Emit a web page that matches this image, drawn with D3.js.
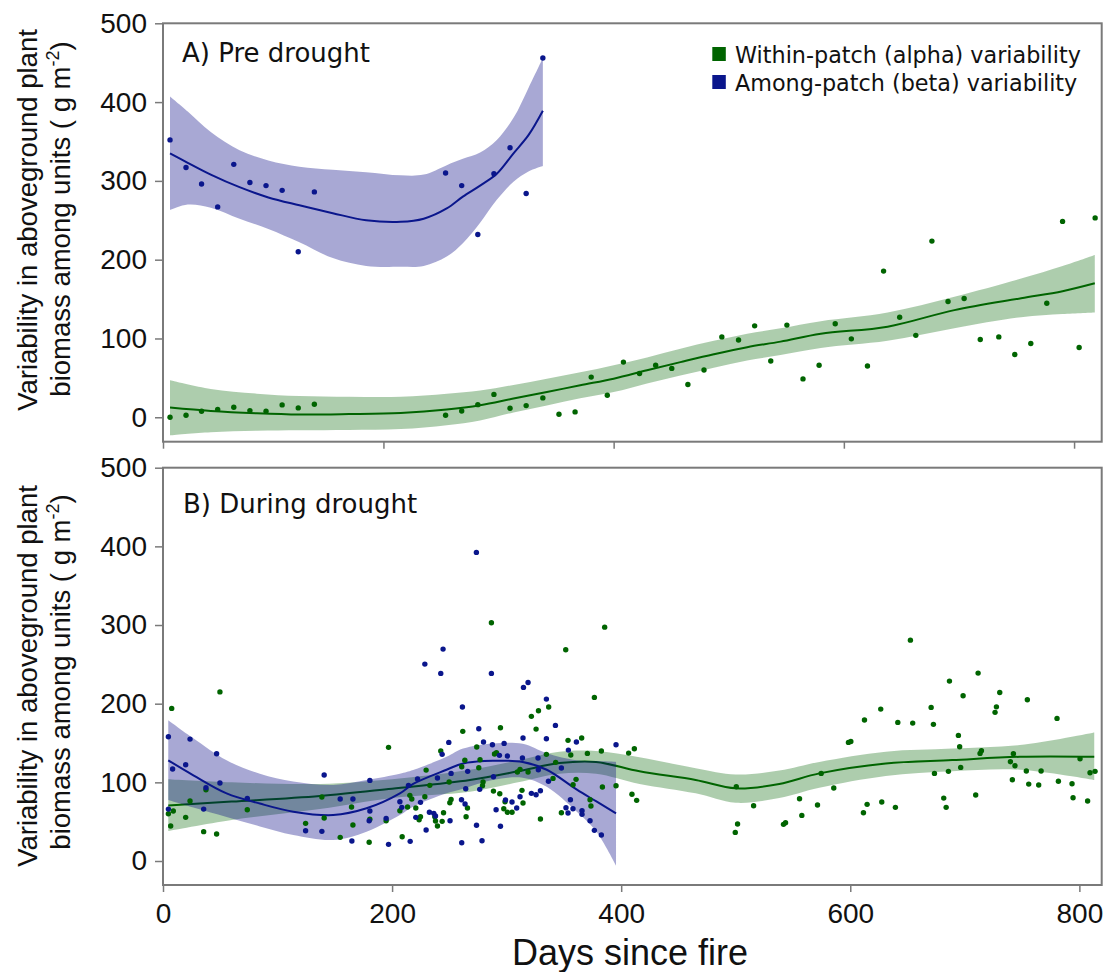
<!DOCTYPE html>
<html><head><meta charset="utf-8">
<script src="https://cdn.jsdelivr.net/npm/d3@7"></script>
<style>body{margin:0;background:#fff} svg{display:block}</style>
</head><body>
<svg id="chart" width="1107" height="972"></svg>
<script>
// ---------- DATA ----------
const xTicks = [0, 200, 400, 600, 800];
const yTicks = [0, 100, 200, 300, 400, 500];
const legendLabels = ["Within-patch (alpha) variability", "Among-patch (beta) variability"];
const panelLabels = ["A) Pre drought", "B) During drought"];

// Panel A – pre drought, observed points [days, value]
const preAlphaPts = [[14.6,0],[28.5,2.5],[42,7.6],[56,10],[70,12.7],[84,8.5],[98,7.6],[112,15.7],[126,11.9],[140,16.5],
 [254,2.5],[268,8],[282,16],[296,29],[310,11.4],[324,14.8],[338.5,24.6],[352.5,3.8],[366.5,6.8],[380.5,51],[394.5,28],
 [408.5,70],[422.5,55.5],[436.5,66],[450.5,62],[464.5,41.5],[478.5,60],[494,102],[508.5,98],[522.5,116],[536.5,71.5],
 [550.5,117],[564.5,48.7],[578.5,66],[592.5,118.6],[606.5,99.5],[620.5,65],[634.5,185.5],[648.5,127],[662.5,104],
 [676.5,223.6],[690.5,147],[704.5,150.8],[718.5,98.7],[734.6,102],[748.5,79.7],[762.4,93.6],[776.3,144.8],[790,248.6],
 [804.4,88.5],[818.3,253]];
const preBetaPts = [[14.6,352],[28.5,317],[42,296],[56,267],[70,321],[84,298],[98,294],[112,288],[126,210],[140,286],
 [254,310],[268,294],[282,232],[296,309],[310,342],[324,284],[338.5,456]];

// Panel A – fitted smooths with confidence bands
const preAlphaX     = [14.6,50,90,127,170,215,255,284,313,342,371,400,429,458,487,516,545,580,638,696,754,790,818];
const preAlphaFit   = [12.3,8,5,3.4,4,5.5,9.8,15.2,23.7,32,40.7,49,59.7,70,80,89,96,106,115,136,151,160,170];
const preAlphaUpper = [47,36,30,27,26,26,30,34,41,49,57,66,76,87,97,106,113,122,133,153,176,192,206];
const preAlphaLower = [-23,-19,-17,-16.5,-16,-15,-10,-4,6,15,24,32,43,53,63,72,79,88,97,113,127,131,133];

const preBetaX     = [14.6,30,50,75,100,127,156,185,215,235,255,269,284,298.5,313,326,338.5];
const preBetaFit   = [335,323,308,292,279,269,259,250,248,252,265,280,294,309,335,358,389];
const preBetaUpper = [407,388,362,339,326,318,314,311,307,308,320,328,336,352,380,418,456];
const preBetaLower = [263,270,266,252,239,222,202,192,191,192,204,221,247,276,299,312,319];

// Panel B – during drought, observed points
const durAlphaPts = [[7.6,194],[49.7,215],[37.5,90.6],[23.6,76.2],[9,63.5],[4.7,60.1],[19.8,55.5],[6.7,44.5],[35.5,37.3],[46.8,34.3],[73.6,65.2],[124.5,47.9],
 [196.9,144.5],[261.7,164.8],[242.5,139.8],[229.7,115.6],[263.5,128],[260.8,119.8],[232.9,96.2],[249.8,100.4],[138.7,81.3],[164.6,68.6],[228.6,81.7],
 [215.5,83.5],[217.2,78.8],[213.5,68.6],[220.7,67.3],[206.8,63.9],[251.5,78.3],[250.4,74.1],[265.8,67.3],[244.9,61.4],[264.6,56.3],[140.7,54.6],
 [165.8,45.7],[180.6,53],[194.8,51.2],[223.6,52.5],[224.8,56.3],[237.3,56.3],[237.9,50.8],[243.7,50.4],[239.6,44.5],[154.7,30.1],[180,23.8],[208.8,30.9],
 [286.7,302.8],[385.6,297.3],[351.6,268.5],[376.6,208],[336.7,195.7],[327.8,191],[321.6,183.9],[325.7,167.7],[294.6,169.4],[273.9,144.9],[289.4,136],
 [291.1,137.7],[276.8,128.7],[275.7,118.6],[309.4,113.1],[311.7,116.5],[318.7,113.1],[334.7,135.6],[342.8,125.4],[353.6,153.4],[356,134.7],[365.5,156.3],
 [370.5,136.8],[382.7,139.8],[406.5,137.2],[411.5,142.7],[395.5,95.7],[383.6,94],[360.6,103.8],[358,97],[340.5,105],[313.4,89.8],[294,85.5],[288.5,88.9],
 [279.4,100.4],[278.9,95.7],[314.3,73.7],[298.6,75.4],[297.5,66.5],[300.7,61.9],[304.7,61.9],[329.5,53.4],[347.8,61.4],[372.8,77.9],[373.6,69.9],
 [409.4,84.8],[413.5,77.1],
 [500.5,94.4],[501.6,47],[499.6,36.4],[515.6,70.3],[541.7,46.6],[543.5,48.7],[555.7,79.2],[557.7,58],[571.4,71.2],[574.6,111.4],[585.6,92.8],
 [598.4,150.8],[600.5,152],[612.4,179.2],[611.5,61.4],[614.7,72],[626.6,193.1],[627.5,75],[639.4,68.2],[641.5,176.2],[652.5,280.8],[654.5,175.3],
 [670.6,195.3],[672.6,173.7],[673.5,111.4],[681.6,80],[683.7,68.2],[685.7,114],[686.6,228.7],[694.4,159.7],[695.5,145.2],[696.4,119],[698.5,210],
 [709.5,83.9],[711.6,238.9],[713.3,136.8],[714.5,140.2],[726.4,189],[727.6,196],[730.5,214.3],[739.8,126.2],[741.5,103.3],[742.4,136.3],[743.8,121.1],
 [753.7,114.4],[754.6,205],[755.8,97.8],[764.5,96.6],[766.6,114.4],[780.5,181.3],[781.7,101.3],[793.6,98.2],[794.5,80.4],[800.6,130],[807.2,76.2],
 [809.3,112.2],[813.7,114]];
const durBetaPts = [[4.7,158],[23.6,155],[46.8,136.4],[8.4,117],[19.8,122.4],[49.7,99.1],[37.5,93.2],[73.6,79.6],[4.7,66],[35.5,66],[124.5,38.5],
 [244.5,269.4],[228.6,250.3],[242.5,238.5],[261.4,195.7],[249.5,150.8],[243.7,135.6],[140.7,109.3],[180.6,102.5],[222.2,104.2],[214.3,96.2],[239.6,105.5],
 [251.5,111.4],[266,114],[264.3,91.9],[154.7,78.8],[165.8,78.8],[206.8,75.4],[224.8,74.6],[260.6,77.9],[263.7,72.4],[208.5,68.2],[180.6,63.5],[180,51.2],
 [194.8,54.2],[220.7,55.5],[232.6,61.9],[236.4,60.6],[237.9,57.2],[250.6,51.2],[229.7,39.4],[138.7,37.7],[164.9,25.4],[196.9,21.2],[215.8,25],[260.8,23.3],
 [273.6,392.3],[286.7,238.5],[314.7,220.7],[318.7,227],[334.7,205.8],[342.6,172.4],[275.7,168.1],[314.3,156.3],[334.7,155.4],[360.9,151.2],[395.5,147.8],
 [279.8,151.2],[287.6,147.8],[297.8,149.5],[293.7,134.3],[300.7,133.4],[313.8,130.9],[327.4,130.9],[353.9,141],[327.7,116],[347.8,118.2],[288.5,107.1],
 [336.5,101.3],[276.5,91.1],[290.8,65.2],[299,77.5],[311.7,81.7],[321.6,86],[325.7,84.2],[329.5,89.3],[304.7,75],[308.8,67.3],[355.7,77.9],[351.8,67.7],
 [353.6,61],[357.9,66.5],[365.8,63.9],[365.8,59.3],[372.8,51.2],[376.6,39],[382.7,33],[294.6,44.1],[273.7,45.4],[278.5,25.8]];

// Panel B – fitted smooths with confidence bands
const durAlphaX     = [4.6,60,137,200,268,310,346,378,416,465,500,538,573,631,689,748,813];
const durAlphaFit   = [70.7,75.5,82.6,92,103,114,124.5,126,114,103,92.4,98,111.4,124,128.3,132.5,132.5];
const durAlphaUpper = [104,100,98,104,116,128,139,140,132,118,110,115,126,139,143,147.4,163.5];
const durAlphaLower = [38,52,66,80,88,100,111,111,98,86,74,80,93,108,114,116,103];

const durBetaX     = [4.6,26.5,55.5,84.6,113.7,148.6,177.7,206.8,218.4,247.5,262,288,314,335,361,378,395.5];
const durBetaFit   = [128,109,86,73,62.7,58.4,67,86,98,116,124,127.4,126,116,91,76,60.6];
const durBetaUpper = [179,156,128,111,101,96.6,103,111,115.6,132.5,143,149.5,149,137,128,127,126];
const durBetaLower = [77.5,68,56,44,33,26.7,37.3,58.4,69,86,92,103,106,94.4,63,38,-6];

// ---------- STYLE ----------
const GREEN = "#006400", BLUE = "#0a168c";
const GREEN_BAND = "#006400", BLUE_BAND = "#000080";
const FRAME = "#7a7a7a";

const svg = d3.select("#chart");
const L = 163, R = 1101.7;

function drawPanel(o) {
  const x = d3.scaleLinear().domain(o.xDomain).range([L, R]);
  const y = d3.scaleLinear().domain(o.yDomain).range([o.bottom, o.top]);
  const g = svg.append("g");
  const clipId = "clip" + o.id;
  svg.append("clipPath").attr("id", clipId).append("rect")
    .attr("x", L).attr("y", o.top).attr("width", R - L).attr("height", o.bottom - o.top);
  const plot = g.append("g").attr("clip-path", `url(#${clipId})`);

  const area = d3.area().x(d => x(d[0])).y0(d => y(d[1])).y1(d => y(d[2])).curve(d3.curveCatmullRom);
  const line = d3.line().x(d => x(d[0])).y(d => y(d[1])).curve(d3.curveCatmullRom);

  o.series.forEach(s => {
    const bandData = s.bx.map((v, i) => [v, s.lo[i], s.up[i]]);
    const fitData = s.bx.map((v, i) => [v, s.fit[i]]);
    plot.append("path").attr("d", area(bandData)).attr("fill", s.band).attr("fill-opacity", s.bandOpacity);
    plot.append("path").attr("d", line(fitData)).attr("fill", "none").attr("stroke", s.color).attr("stroke-width", 2);
  });
  o.series.forEach(s => {
    plot.append("g").selectAll("circle").data(s.pts).join("circle")
      .attr("cx", d => x(d[0])).attr("cy", d => y(d[1])).attr("r", 2.7).attr("fill", s.color);
  });

  // frame
  g.append("rect").attr("x", L).attr("y", o.top).attr("width", R - L).attr("height", o.bottom - o.top)
    .attr("fill", "none").attr("stroke", FRAME).attr("stroke-width", 2);

  // y axis
  const ya = g.append("g").attr("transform", `translate(${L},0)`)
    .call(d3.axisLeft(y).tickValues(yTicks).tickSize(8).tickPadding(8));
  ya.select(".domain").remove();
  ya.selectAll(".tick line").attr("stroke", FRAME).attr("stroke-width", 1.5);
  ya.selectAll(".tick text").attr("font-family", "Liberation Sans, Arial, sans-serif")
    .attr("font-size", 28).attr("fill", "#111");

  // x axis
  const xa = g.append("g").attr("transform", `translate(0,${o.bottom})`)
    .call(d3.axisBottom(x).tickValues(o.xTickVals).tickSize(7).tickPadding(11)
      .tickFormat(o.showXLabels ? d3.format("d") : () => ""));
  xa.select(".domain").remove();
  xa.selectAll(".tick line").attr("stroke", FRAME).attr("stroke-width", 1.5);
  xa.selectAll(".tick text").attr("font-family", "Liberation Sans, Arial, sans-serif")
    .attr("font-size", 28).attr("fill", "#111");

  // panel label
  g.append("text").attr("x", o.labelX).attr("y", o.labelY).text(o.label)
    .attr("font-family", "DejaVu Sans, sans-serif").attr("font-size", 26).attr("fill", "#111");

  // y title
  g.append("text").attr("transform", `translate(37,${o.t1c}) rotate(-90)`)
    .attr("text-anchor", "middle").attr("font-family", "Liberation Sans, Arial, sans-serif")
    .attr("font-size", 27.5).attr("fill", "#111").text("Variability in aboveground plant");
  const t2 = g.append("text").attr("transform", `translate(70,${o.t2c}) rotate(-90)`)
    .attr("text-anchor", "middle").attr("font-family", "Liberation Sans, Arial, sans-serif")
    .attr("font-size", 27.5).attr("fill", "#111");
  t2.append("tspan").text("biomass among units ( g m");
  t2.append("tspan").attr("dy", -11).attr("font-size", 18).text("-2");
  t2.append("tspan").attr("dy", 11).text(")");
  return {x, y, g};
}

drawPanel({
  id: "A", top: 23.3, bottom: 441.7, xDomain: [8.5, 824], yDomain: [-31, 500],
  xTickVals: [8.5, 200, 400, 600, 800], showXLabels: false,
  label: panelLabels[0], labelX: 182, labelY: 62, t1c: 220, t2c: 219,
  series: [
    {pts: preAlphaPts, bx: preAlphaX, fit: preAlphaFit, up: preAlphaUpper, lo: preAlphaLower, color: GREEN, band: GREEN_BAND, bandOpacity: 0.32},
    {pts: preBetaPts, bx: preBetaX, fit: preBetaFit, up: preBetaUpper, lo: preBetaLower, color: BLUE, band: BLUE_BAND, bandOpacity: 0.34}
  ]
});

drawPanel({
  id: "B", top: 467.7, bottom: 885, xDomain: [0, 819.5], yDomain: [-30.5, 500],
  xTickVals: xTicks, showXLabels: true,
  label: panelLabels[1], labelX: 183, labelY: 513, t1c: 676, t2c: 672,
  series: [
    {pts: durAlphaPts, bx: durAlphaX, fit: durAlphaFit, up: durAlphaUpper, lo: durAlphaLower, color: GREEN, band: GREEN_BAND, bandOpacity: 0.32},
    {pts: durBetaPts, bx: durBetaX, fit: durBetaFit, up: durBetaUpper, lo: durBetaLower, color: BLUE, band: BLUE_BAND, bandOpacity: 0.34}
  ]
});

// x title
svg.append("text").attr("x", 630).attr("y", 965).attr("text-anchor", "middle")
  .attr("font-family", "Liberation Sans, Arial, sans-serif").attr("font-size", 36).attr("fill", "#111")
  .text("Days since fire");

// legend
const leg = svg.append("g");
[GREEN, BLUE].forEach((c, i) => {
  leg.append("rect").attr("x", 712.3).attr("y", 47 + i * 28).attr("width", 13.5).attr("height", 14).attr("fill", c);
  leg.append("text").attr("x", 735).attr("y", 63 + i * 27.7).text(legendLabels[i])
    .attr("font-family", "DejaVu Sans, sans-serif").attr("font-size", 22.3).attr("fill", "#111");
});
</script>
</body></html>
